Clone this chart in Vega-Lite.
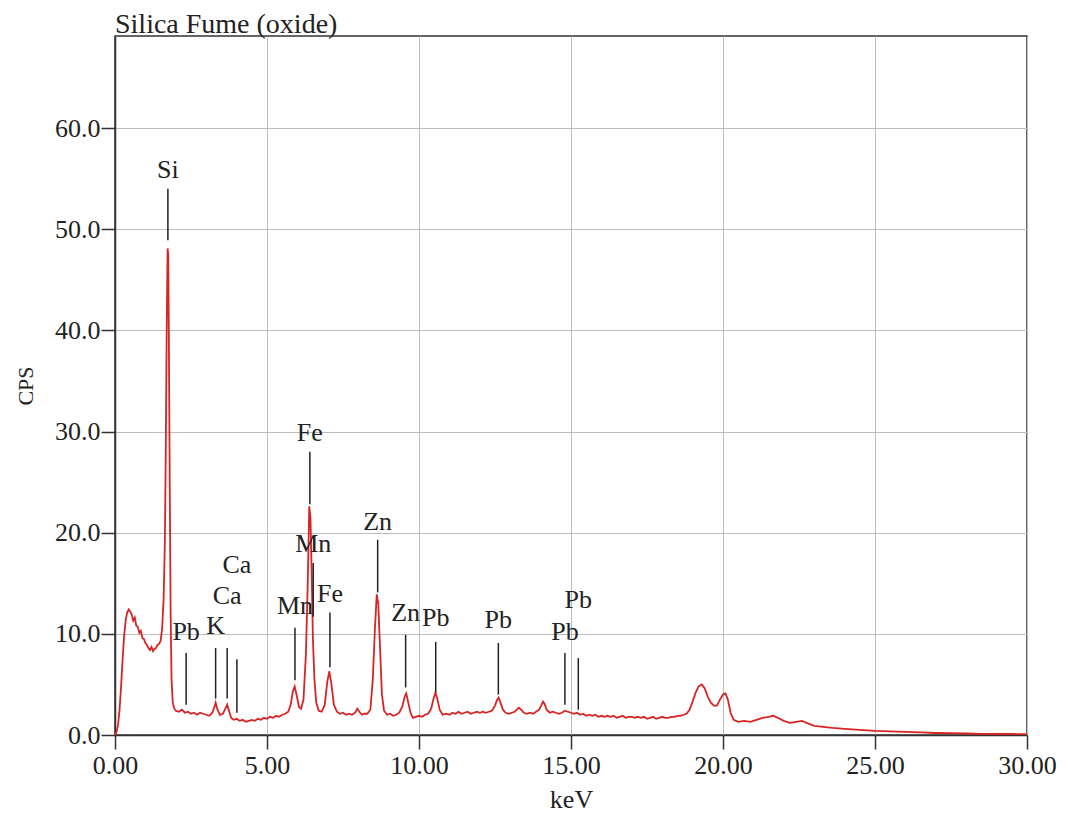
{
  "$schema": "https://vega.github.io/schema/vega-lite/v6.json",
  "autosize": {"type": "none"},
  "width": 912,
  "height": 699,
  "padding": {"left": 115, "top": 36, "right": 41, "bottom": 81},
  "background": "white",
  "config": {
    "font": "Liberation Serif",
    "view": {"stroke": "#333333", "strokeWidth": 1.5},
    "axis": {
      "labelFont": "Liberation Serif",
      "titleFont": "Liberation Serif",
      "labelColor": "#222222",
      "titleColor": "#222222",
      "labelFontSize": 26,
      "titleFontSize": 26,
      "titleFontWeight": "normal",
      "domainColor": "#333333",
      "domainWidth": 1.5,
      "tickColor": "#333333",
      "tickWidth": 1.5,
      "tickSize": 14,
      "gridColor": "#bdbdbd",
      "gridWidth": 1
    }
  },
  "title": {
    "text": "Silica Fume (oxide)",
    "anchor": "start",
    "frame": "group",
    "font": "Liberation Serif",
    "fontSize": 28,
    "fontWeight": "normal",
    "color": "#222222",
    "baseline": "alphabetic",
    "offset": 5,
    "dy": 30,
    "dx": 0
  },
  "datasets": {
    "spectrum": [
      {"e": 0.00, "cps": 0.0}, {"e": 0.05, "cps": 0.3}, {"e": 0.10, "cps": 1.0}, {"e": 0.15, "cps": 2.5},
      {"e": 0.20, "cps": 4.8}, {"e": 0.25, "cps": 7.5}, {"e": 0.30, "cps": 9.8}, {"e": 0.35, "cps": 11.3},
      {"e": 0.40, "cps": 12.1}, {"e": 0.45, "cps": 12.4}, {"e": 0.50, "cps": 12.2}, {"e": 0.55, "cps": 11.9},
      {"e": 0.60, "cps": 11.3}, {"e": 0.65, "cps": 11.6}, {"e": 0.70, "cps": 10.8}, {"e": 0.75, "cps": 10.7},
      {"e": 0.80, "cps": 10.1}, {"e": 0.85, "cps": 10.3}, {"e": 0.90, "cps": 9.6}, {"e": 0.95, "cps": 9.5},
      {"e": 1.00, "cps": 9.1}, {"e": 1.05, "cps": 8.9}, {"e": 1.10, "cps": 8.6}, {"e": 1.15, "cps": 8.4},
      {"e": 1.20, "cps": 8.7}, {"e": 1.25, "cps": 8.3}, {"e": 1.30, "cps": 8.5}, {"e": 1.35, "cps": 8.6},
      {"e": 1.40, "cps": 8.9}, {"e": 1.45, "cps": 9.0}, {"e": 1.50, "cps": 9.3}, {"e": 1.55, "cps": 10.5},
      {"e": 1.60, "cps": 13.5}, {"e": 1.64, "cps": 19.0}, {"e": 1.67, "cps": 28.0}, {"e": 1.70, "cps": 40.0},
      {"e": 1.73, "cps": 48.1}, {"e": 1.75, "cps": 47.5}, {"e": 1.77, "cps": 40.0}, {"e": 1.80, "cps": 25.0},
      {"e": 1.83, "cps": 12.0}, {"e": 1.86, "cps": 5.5}, {"e": 1.90, "cps": 3.2}, {"e": 1.95, "cps": 2.6},
      {"e": 2.00, "cps": 2.4}, {"e": 2.10, "cps": 2.3}, {"e": 2.20, "cps": 2.5}, {"e": 2.30, "cps": 2.2},
      {"e": 2.40, "cps": 2.3}, {"e": 2.50, "cps": 2.1}, {"e": 2.60, "cps": 2.2}, {"e": 2.70, "cps": 2.0},
      {"e": 2.80, "cps": 2.2}, {"e": 2.90, "cps": 2.1}, {"e": 3.00, "cps": 2.0}, {"e": 3.10, "cps": 1.9},
      {"e": 3.20, "cps": 2.2}, {"e": 3.27, "cps": 2.8}, {"e": 3.31, "cps": 3.2}, {"e": 3.36, "cps": 2.6},
      {"e": 3.45, "cps": 2.0}, {"e": 3.55, "cps": 2.1}, {"e": 3.63, "cps": 2.6}, {"e": 3.69, "cps": 3.0},
      {"e": 3.74, "cps": 2.5}, {"e": 3.82, "cps": 1.7}, {"e": 3.90, "cps": 1.5}, {"e": 4.00, "cps": 1.6},
      {"e": 4.10, "cps": 1.4}, {"e": 4.20, "cps": 1.5}, {"e": 4.30, "cps": 1.3}, {"e": 4.40, "cps": 1.4},
      {"e": 4.50, "cps": 1.5}, {"e": 4.60, "cps": 1.4}, {"e": 4.70, "cps": 1.6}, {"e": 4.80, "cps": 1.5},
      {"e": 4.90, "cps": 1.7}, {"e": 5.00, "cps": 1.6}, {"e": 5.10, "cps": 1.8}, {"e": 5.20, "cps": 1.7},
      {"e": 5.30, "cps": 1.9}, {"e": 5.40, "cps": 1.8}, {"e": 5.50, "cps": 2.0}, {"e": 5.60, "cps": 2.1},
      {"e": 5.70, "cps": 2.3}, {"e": 5.78, "cps": 3.0}, {"e": 5.85, "cps": 4.3}, {"e": 5.91, "cps": 4.8},
      {"e": 5.97, "cps": 4.0}, {"e": 6.05, "cps": 2.8}, {"e": 6.12, "cps": 2.6}, {"e": 6.20, "cps": 3.5},
      {"e": 6.28, "cps": 8.0}, {"e": 6.34, "cps": 15.0}, {"e": 6.39, "cps": 22.6}, {"e": 6.43, "cps": 21.5},
      {"e": 6.47, "cps": 16.0}, {"e": 6.51, "cps": 9.5}, {"e": 6.56, "cps": 5.5}, {"e": 6.62, "cps": 3.2},
      {"e": 6.70, "cps": 2.4}, {"e": 6.80, "cps": 2.3}, {"e": 6.90, "cps": 3.0}, {"e": 6.98, "cps": 5.2},
      {"e": 7.05, "cps": 6.3}, {"e": 7.12, "cps": 5.0}, {"e": 7.20, "cps": 3.0}, {"e": 7.30, "cps": 2.3},
      {"e": 7.40, "cps": 2.1}, {"e": 7.50, "cps": 2.2}, {"e": 7.60, "cps": 2.0}, {"e": 7.70, "cps": 2.1},
      {"e": 7.80, "cps": 2.0}, {"e": 7.90, "cps": 2.2}, {"e": 7.97, "cps": 2.6}, {"e": 8.04, "cps": 2.3},
      {"e": 8.12, "cps": 2.0}, {"e": 8.20, "cps": 2.1}, {"e": 8.30, "cps": 2.1}, {"e": 8.40, "cps": 2.5},
      {"e": 8.48, "cps": 5.5}, {"e": 8.55, "cps": 10.5}, {"e": 8.61, "cps": 13.9}, {"e": 8.66, "cps": 13.0},
      {"e": 8.72, "cps": 8.5}, {"e": 8.78, "cps": 4.0}, {"e": 8.85, "cps": 2.4}, {"e": 8.95, "cps": 2.0},
      {"e": 9.05, "cps": 2.1}, {"e": 9.15, "cps": 1.9}, {"e": 9.25, "cps": 2.0}, {"e": 9.35, "cps": 2.2},
      {"e": 9.45, "cps": 2.8}, {"e": 9.53, "cps": 3.8}, {"e": 9.58, "cps": 4.1}, {"e": 9.64, "cps": 3.3},
      {"e": 9.72, "cps": 2.2}, {"e": 9.80, "cps": 1.7}, {"e": 9.90, "cps": 1.8}, {"e": 10.00, "cps": 1.9},
      {"e": 10.10, "cps": 1.8}, {"e": 10.20, "cps": 2.0}, {"e": 10.30, "cps": 2.1}, {"e": 10.40, "cps": 2.6},
      {"e": 10.48, "cps": 3.6}, {"e": 10.54, "cps": 4.2}, {"e": 10.60, "cps": 3.6}, {"e": 10.68, "cps": 2.5},
      {"e": 10.78, "cps": 2.0}, {"e": 10.90, "cps": 2.1}, {"e": 11.00, "cps": 2.0}, {"e": 11.10, "cps": 2.2},
      {"e": 11.20, "cps": 2.1}, {"e": 11.30, "cps": 2.3}, {"e": 11.40, "cps": 2.1}, {"e": 11.50, "cps": 2.2},
      {"e": 11.60, "cps": 2.3}, {"e": 11.70, "cps": 2.1}, {"e": 11.80, "cps": 2.2}, {"e": 11.90, "cps": 2.3},
      {"e": 12.00, "cps": 2.2}, {"e": 12.10, "cps": 2.3}, {"e": 12.20, "cps": 2.2}, {"e": 12.30, "cps": 2.3},
      {"e": 12.40, "cps": 2.4}, {"e": 12.50, "cps": 2.9}, {"e": 12.57, "cps": 3.5}, {"e": 12.62, "cps": 3.7},
      {"e": 12.68, "cps": 3.2}, {"e": 12.76, "cps": 2.5}, {"e": 12.85, "cps": 2.2}, {"e": 12.95, "cps": 2.1},
      {"e": 13.05, "cps": 2.2}, {"e": 13.15, "cps": 2.3}, {"e": 13.28, "cps": 2.7}, {"e": 13.36, "cps": 2.5},
      {"e": 13.45, "cps": 2.2}, {"e": 13.55, "cps": 2.1}, {"e": 13.65, "cps": 2.2}, {"e": 13.75, "cps": 2.1},
      {"e": 13.85, "cps": 2.3}, {"e": 13.95, "cps": 2.5}, {"e": 14.02, "cps": 2.9}, {"e": 14.08, "cps": 3.3},
      {"e": 14.13, "cps": 3.1}, {"e": 14.20, "cps": 2.5}, {"e": 14.30, "cps": 2.2}, {"e": 14.40, "cps": 2.3},
      {"e": 14.50, "cps": 2.2}, {"e": 14.60, "cps": 2.1}, {"e": 14.70, "cps": 2.2}, {"e": 14.80, "cps": 2.4},
      {"e": 14.90, "cps": 2.3}, {"e": 15.00, "cps": 2.2}, {"e": 15.10, "cps": 2.1}, {"e": 15.20, "cps": 2.2},
      {"e": 15.30, "cps": 2.0}, {"e": 15.40, "cps": 2.1}, {"e": 15.50, "cps": 1.9}, {"e": 15.60, "cps": 2.0},
      {"e": 15.70, "cps": 1.9}, {"e": 15.80, "cps": 2.0}, {"e": 15.90, "cps": 1.8}, {"e": 16.00, "cps": 1.9},
      {"e": 16.10, "cps": 1.8}, {"e": 16.20, "cps": 1.9}, {"e": 16.30, "cps": 1.8}, {"e": 16.40, "cps": 1.9},
      {"e": 16.50, "cps": 1.7}, {"e": 16.60, "cps": 1.8}, {"e": 16.70, "cps": 1.9}, {"e": 16.80, "cps": 1.7},
      {"e": 16.90, "cps": 1.8}, {"e": 17.00, "cps": 1.8}, {"e": 17.10, "cps": 1.7}, {"e": 17.20, "cps": 1.8},
      {"e": 17.30, "cps": 1.7}, {"e": 17.40, "cps": 1.8}, {"e": 17.50, "cps": 1.6}, {"e": 17.60, "cps": 1.7},
      {"e": 17.70, "cps": 1.8}, {"e": 17.80, "cps": 1.6}, {"e": 17.90, "cps": 1.7}, {"e": 18.00, "cps": 1.8},
      {"e": 18.10, "cps": 1.7}, {"e": 18.20, "cps": 1.7}, {"e": 18.30, "cps": 1.8}, {"e": 18.40, "cps": 1.8},
      {"e": 18.50, "cps": 1.9}, {"e": 18.60, "cps": 1.9}, {"e": 18.70, "cps": 2.0}, {"e": 18.80, "cps": 2.1},
      {"e": 18.90, "cps": 2.5}, {"e": 19.00, "cps": 3.3}, {"e": 19.10, "cps": 4.2}, {"e": 19.20, "cps": 4.8},
      {"e": 19.30, "cps": 5.0}, {"e": 19.40, "cps": 4.6}, {"e": 19.50, "cps": 3.8}, {"e": 19.60, "cps": 3.2},
      {"e": 19.70, "cps": 2.9}, {"e": 19.80, "cps": 2.9}, {"e": 19.90, "cps": 3.5}, {"e": 20.00, "cps": 4.0},
      {"e": 20.08, "cps": 4.1}, {"e": 20.16, "cps": 3.5}, {"e": 20.25, "cps": 2.2}, {"e": 20.35, "cps": 1.5},
      {"e": 20.50, "cps": 1.3}, {"e": 20.70, "cps": 1.4}, {"e": 20.90, "cps": 1.3}, {"e": 21.10, "cps": 1.5},
      {"e": 21.30, "cps": 1.7}, {"e": 21.50, "cps": 1.8}, {"e": 21.65, "cps": 1.9}, {"e": 21.80, "cps": 1.7},
      {"e": 22.00, "cps": 1.4}, {"e": 22.20, "cps": 1.2}, {"e": 22.40, "cps": 1.3}, {"e": 22.60, "cps": 1.4},
      {"e": 22.75, "cps": 1.2}, {"e": 23.00, "cps": 0.9}, {"e": 23.30, "cps": 0.8}, {"e": 23.60, "cps": 0.7},
      {"e": 24.00, "cps": 0.6}, {"e": 24.50, "cps": 0.5}, {"e": 25.00, "cps": 0.4}, {"e": 25.50, "cps": 0.35},
      {"e": 26.00, "cps": 0.3}, {"e": 26.50, "cps": 0.25}, {"e": 27.00, "cps": 0.2}, {"e": 27.50, "cps": 0.18},
      {"e": 28.00, "cps": 0.15}, {"e": 28.50, "cps": 0.12}, {"e": 29.00, "cps": 0.1}, {"e": 29.50, "cps": 0.1},
      {"e": 30.00, "cps": 0.08}
    ],
    "labels": [
      {"el": "Si", "x": 1.74, "y1": 48.9, "y2": 54.0, "ty": 55.9},
      {"el": "Pb", "x": 2.34, "y1": 3.0, "y2": 8.1, "ty": 10.2},
      {"el": "K", "x": 3.31, "y1": 3.6, "y2": 8.6, "ty": 10.8},
      {"el": "Ca", "x": 3.69, "y1": 3.6, "y2": 8.6, "ty": 13.7},
      {"el": "Ca", "x": 4.01, "y1": 2.2, "y2": 7.5, "ty": 16.8},
      {"el": "Mn", "x": 5.92, "y1": 5.4, "y2": 10.6, "ty": 12.8},
      {"el": "Fe", "x": 6.41, "y1": 22.8, "y2": 28.0, "ty": 29.9},
      {"el": "Mn", "x": 6.52, "y1": 11.7, "y2": 17.0, "ty": 18.9},
      {"el": "Fe", "x": 7.07, "y1": 6.7, "y2": 12.1, "ty": 13.9},
      {"el": "Zn", "x": 8.64, "y1": 14.1, "y2": 19.3, "ty": 21.1},
      {"el": "Zn", "x": 9.56, "y1": 4.7, "y2": 9.9, "ty": 12.1},
      {"el": "Pb", "x": 10.55, "y1": 4.2, "y2": 9.2, "ty": 11.6},
      {"el": "Pb", "x": 12.61, "y1": 4.0, "y2": 9.1, "ty": 11.4},
      {"el": "Pb", "x": 14.80, "y1": 3.0, "y2": 8.1, "ty": 10.2},
      {"el": "Pb", "x": 15.24, "y1": 2.5, "y2": 7.6, "ty": 13.3}
    ]
  },
  "layer": [
    {
      "data": {"name": "spectrum"},
      "mark": {"type": "line", "color": "#d82424", "strokeWidth": 1.8, "interpolate": "linear"},
      "encoding": {
        "x": {
          "field": "e", "type": "quantitative",
          "scale": {"domain": [0, 30], "nice": false},
          "axis": {"values": [0, 5, 10, 15, 20, 25, 30], "format": ".2f", "title": "keV", "labelPadding": 3, "titlePadding": 8, "labelFlush": false}
        },
        "y": {
          "field": "cps", "type": "quantitative",
          "scale": {"domain": [0, 69.1], "nice": false, "zero": true},
          "axis": {"values": [0, 10, 20, 30, 40, 50, 60], "format": ".1f", "title": "CPS", "titleFontSize": 22, "labelPadding": 1, "titlePadding": 17}
        }
      }
    },
    {
      "data": {"name": "labels"},
      "mark": {"type": "rule", "color": "#222222", "strokeWidth": 1.5},
      "encoding": {
        "x": {"field": "x", "type": "quantitative"},
        "y": {"field": "y1", "type": "quantitative"},
        "y2": {"field": "y2"}
      }
    },
    {
      "data": {"name": "labels"},
      "mark": {"type": "text", "font": "Liberation Serif", "fontSize": 26, "color": "#222222", "baseline": "middle", "align": "center"},
      "encoding": {
        "x": {"field": "x", "type": "quantitative"},
        "y": {"field": "ty", "type": "quantitative"},
        "text": {"field": "el"}
      }
    }
  ]
}
